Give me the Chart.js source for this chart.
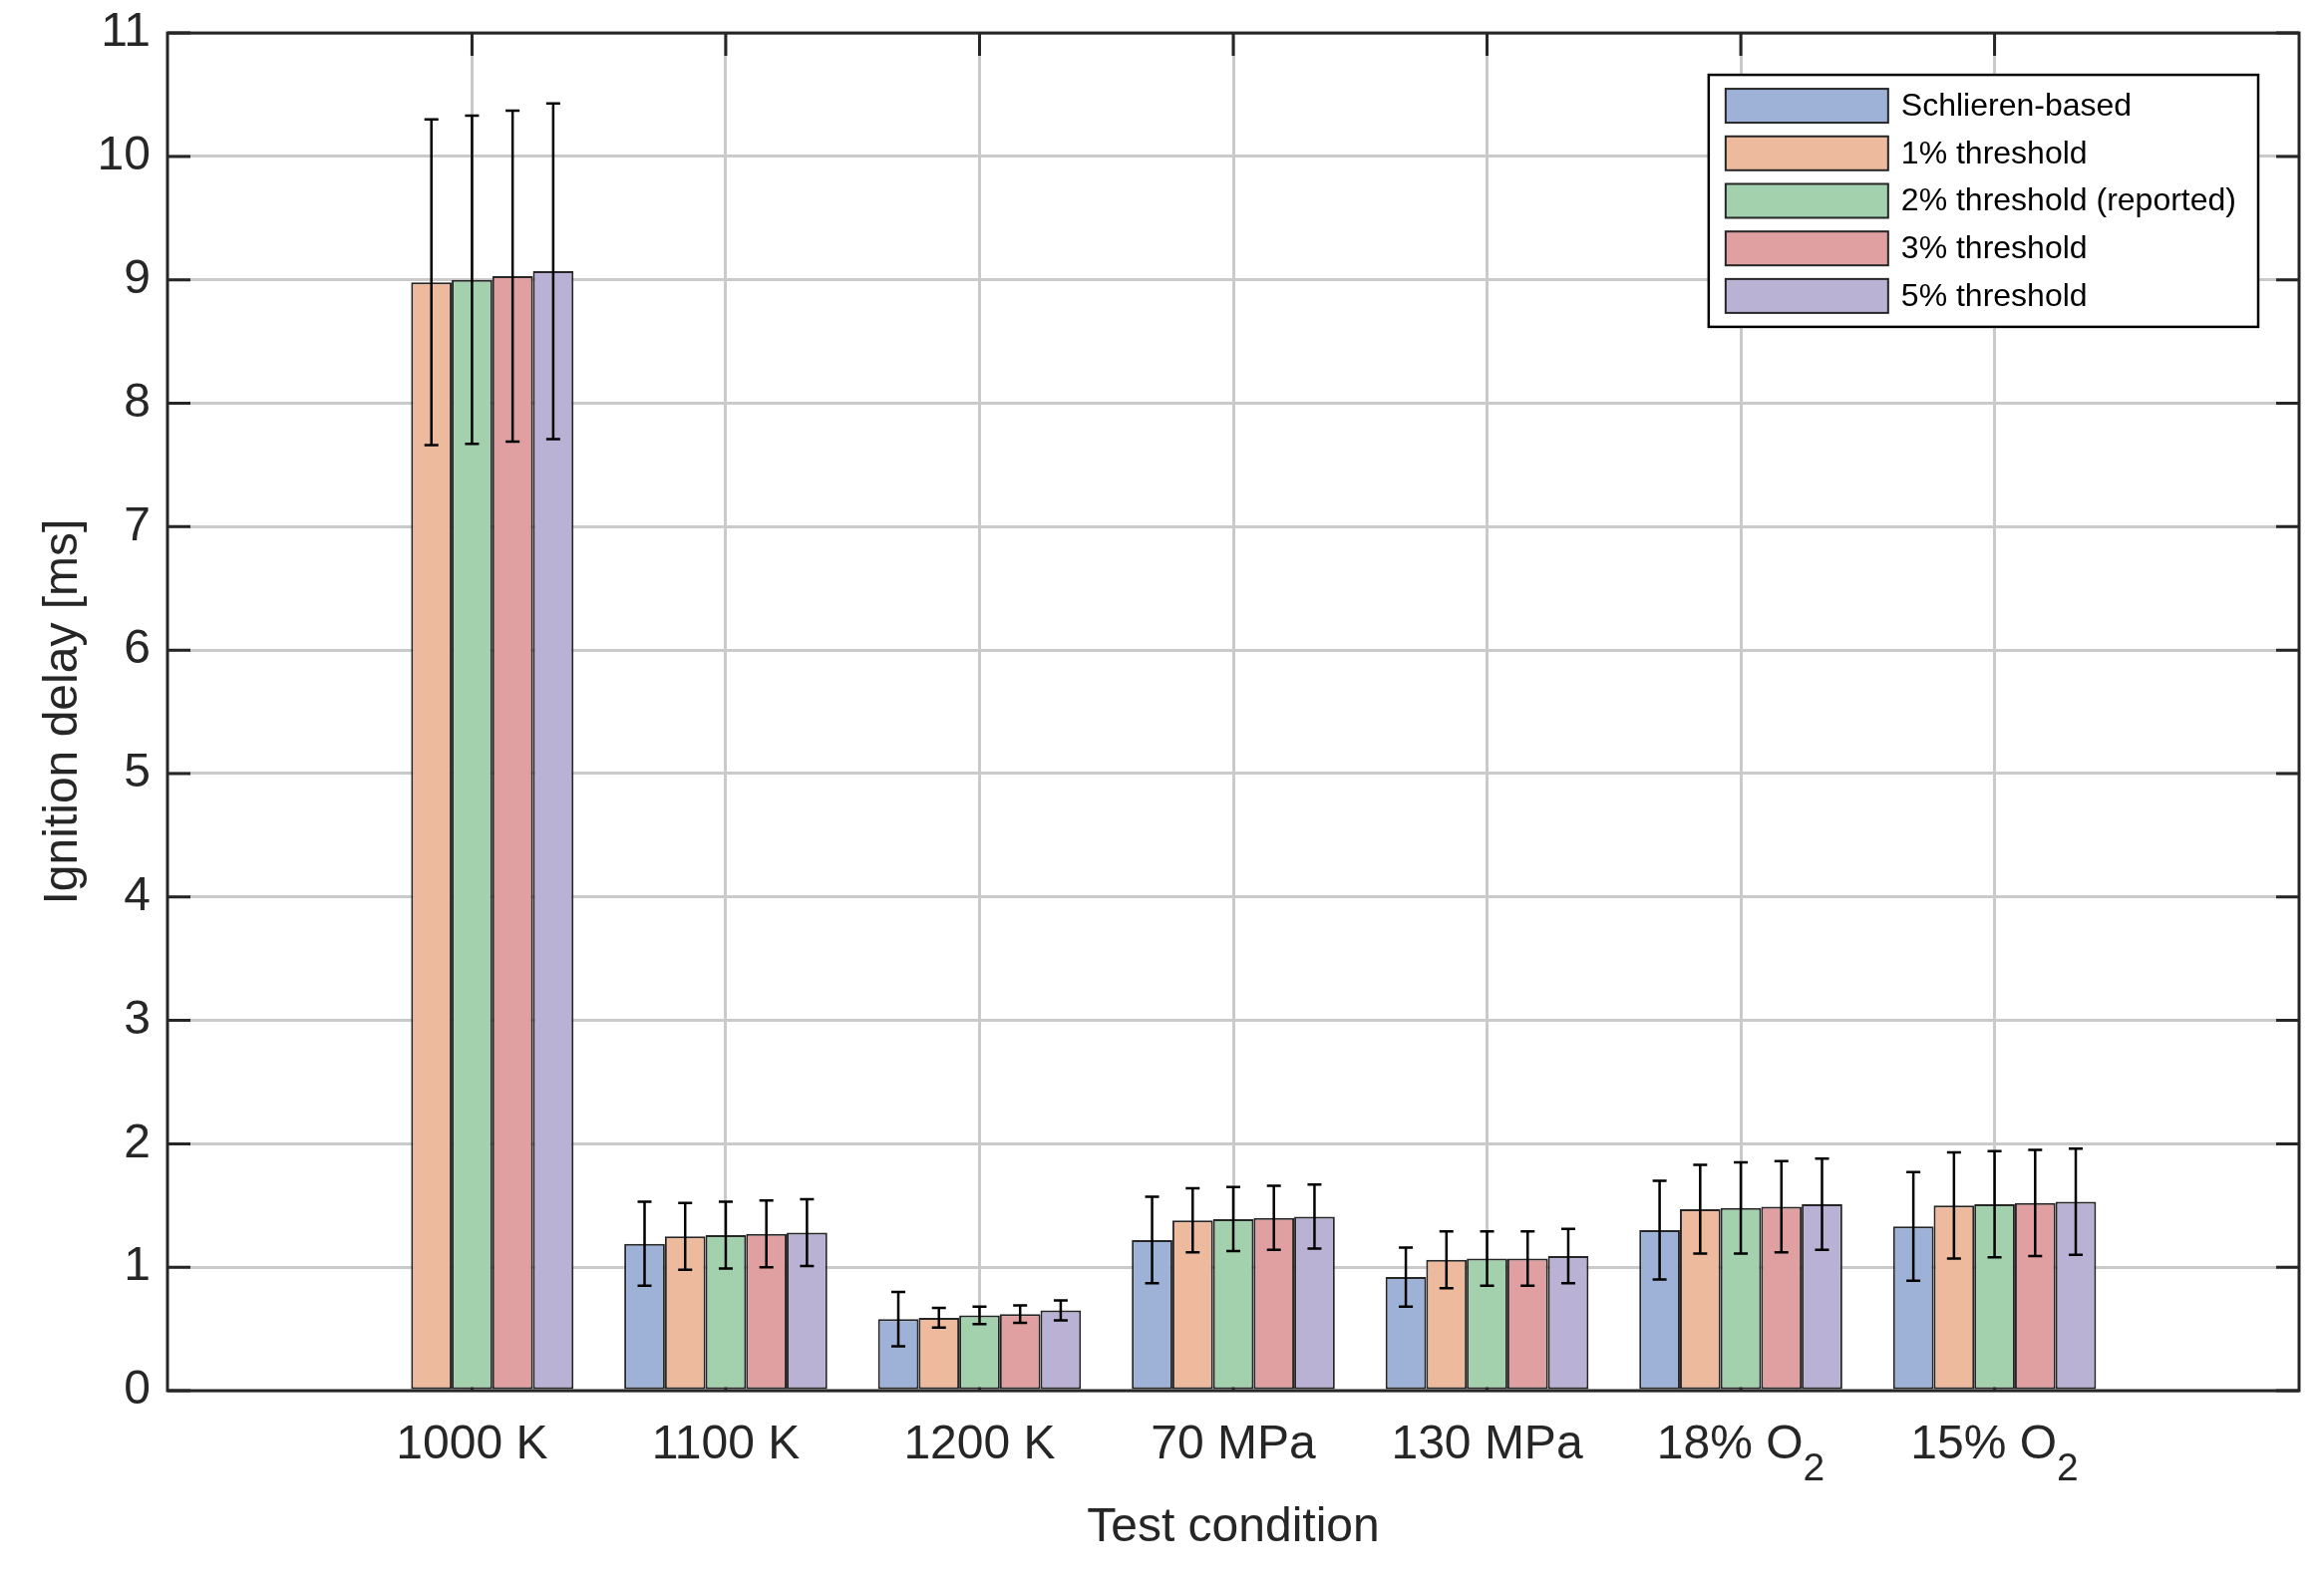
<!DOCTYPE html>
<html>
<head>
<meta charset="utf-8">
<script src="https://cdn.jsdelivr.net/npm/chart.js@4.4.1/dist/chart.umd.min.js"></script>
<style>
  html, body { margin: 0; padding: 0; background: #fff; }
  canvas { display: block; }
</style>
</head>
<body>
<canvas id="barChart" width="2331" height="1599"></canvas>
<script>
// categories and series
const categories = ["1000 K", "1100 K", "1200 K", "70 MPa", "130 MPa", "18% O\u2082", "15% O\u2082"];
const seriesLabels = ["Schlieren-based", "1% threshold", "2% threshold (reported)", "3% threshold", "5% threshold"];
const seriesColors = ["#9db2d6", "#edba9e", "#a3d1ae", "#e09fa1", "#bab2d5"];

const schlieren    = [null, 1.19, 0.58, 1.22, 0.92, 1.30, 1.33];
const schlierenErr = [null, 0.34, 0.22, 0.35, 0.24, 0.40, 0.44];
const thr1         = [8.98, 1.25, 0.59, 1.38, 1.06, 1.47, 1.50];
const thr1Err      = [1.32, 0.27, 0.08, 0.26, 0.23, 0.36, 0.43];
const thr2         = [9.00, 1.26, 0.61, 1.39, 1.07, 1.48, 1.51];
const thr2Err      = [1.33, 0.27, 0.07, 0.26, 0.22, 0.37, 0.43];
const thr3         = [9.03, 1.27, 0.62, 1.40, 1.07, 1.49, 1.52];
const thr3Err      = [1.34, 0.27, 0.07, 0.26, 0.22, 0.37, 0.43];
const thr5         = [9.07, 1.28, 0.65, 1.41, 1.09, 1.51, 1.53];
const thr5Err      = [1.36, 0.27, 0.08, 0.26, 0.22, 0.37, 0.43];

const yTicks = [0, 1, 2, 3, 4, 5, 6, 7, 8, 9, 10, 11];

const seriesValues = [schlieren, thr1, thr2, thr3, thr5];
const seriesErrors = [schlierenErr, thr1Err, thr2Err, thr3Err, thr5Err];

const FONT = '"Liberation Sans", Arial, Helvetica, sans-serif';
const INK = "#262626";
Chart.defaults.font.family = FONT;
Chart.defaults.color = INK;

// MATLAB-style box with inward ticks, drawn under the bars
const axesBox = {
  id: "axesBox",
  beforeDatasetsDraw(chart) {
    const { ctx, chartArea: a, scales: { x, y } } = chart;
    const len = 23;
    ctx.save();
    ctx.strokeStyle = INK;
    ctx.lineWidth = 3;
    ctx.beginPath();
    y.ticks.forEach(t => {
      const py = y.getPixelForValue(t.value);
      ctx.moveTo(a.left, py); ctx.lineTo(a.left + len, py);
      ctx.moveTo(a.right, py); ctx.lineTo(a.right - len, py);
    });
    x.ticks.forEach(t => {
      const px = x.getPixelForValue(t.value);
      ctx.moveTo(px, a.top); ctx.lineTo(px, a.top + len);
      ctx.moveTo(px, a.bottom); ctx.lineTo(px, a.bottom - len);
    });
    ctx.stroke();
    ctx.strokeRect(a.left, a.top, a.right - a.left, a.bottom - a.top);
    ctx.restore();
  }
};

// category labels under the x axis, with a real lowered subscript for O2
const xLabels = {
  id: "xLabels",
  afterDraw(chart) {
    const { ctx, chartArea: a, scales: { x } } = chart;
    const big = "48px " + FONT, small = "39px " + FONT;
    const base = a.bottom + 68;
    ctx.save();
    ctx.fillStyle = INK;
    ctx.textBaseline = "alphabetic";
    ctx.textAlign = "left";
    x.ticks.forEach(t => {
      const label = categories[Math.round(t.value) - 1];
      const parts = label.split("\u2082");
      const main = parts[0];
      const sub = parts.length > 1 ? "2" : "";
      ctx.font = big;
      const wMain = ctx.measureText(main).width;
      ctx.font = small;
      const wSub = sub ? ctx.measureText(sub).width : 0;
      const left = x.getPixelForValue(t.value) - (wMain + wSub) / 2;
      ctx.font = big;
      ctx.fillText(main, left, base);
      if (sub) {
        ctx.font = small;
        ctx.fillText(sub, left + wMain, base + 22);
      }
    });
    ctx.restore();
  }
};

const errorBars = {
  id: "errorBars",
  afterDatasetsDraw(chart) {
    const { ctx, scales: { y } } = chart;
    const cap = 7;
    ctx.save();
    ctx.strokeStyle = "#000";
    ctx.lineWidth = 2.5;
    chart.data.datasets.forEach((ds, di) => {
      const meta = chart.getDatasetMeta(di);
      meta.data.forEach((bar, i) => {
        const v = ds.data[i].y;
        const e = ds.errors[i];
        if (v == null || e == null) return;
        const yt = y.getPixelForValue(v + e);
        const yb = y.getPixelForValue(v - e);
        ctx.beginPath();
        ctx.moveTo(bar.x, yt); ctx.lineTo(bar.x, yb);
        ctx.moveTo(bar.x - cap, yt); ctx.lineTo(bar.x + cap, yt);
        ctx.moveTo(bar.x - cap, yb); ctx.lineTo(bar.x + cap, yb);
        ctx.stroke();
      });
    });
    ctx.restore();
  }
};

const legendBox = {
  id: "legendBox",
  afterDraw(chart) {
    const { ctx, chartArea: a } = chart;
    const sets = chart.data.datasets;
    ctx.save();
    ctx.font = "32px " + FONT;
    const textW = Math.max(...sets.map(d => ctx.measureText(d.label).width));
    const sw = 163, sh = 34, pitch = 47.7, pad = 14;
    const boxW = 17 + sw + 13 + textW + 22;
    const boxH = pad * 2 + (sets.length - 1) * pitch + sh;
    const left = a.right - 41 - boxW;
    const top = a.top + 42;
    ctx.fillStyle = "#fff";
    ctx.fillRect(left, top, boxW, boxH);
    ctx.strokeStyle = "#000";
    ctx.lineWidth = 2.5;
    ctx.strokeRect(left, top, boxW, boxH);
    ctx.textBaseline = "middle";
    ctx.textAlign = "left";
    sets.forEach((d, i) => {
      const sy = top + pad + i * pitch;
      ctx.fillStyle = d.backgroundColor;
      ctx.fillRect(left + 17, sy, sw, sh);
      ctx.strokeStyle = INK;
      ctx.lineWidth = 2;
      ctx.strokeRect(left + 17, sy, sw, sh);
      ctx.fillStyle = "#000";
      ctx.fillText(d.label, left + 17 + sw + 13, sy + sh / 2 + 1);
    });
    ctx.restore();
  }
};

const ctx = document.getElementById("barChart").getContext("2d");
const chart = new Chart(ctx, {
  type: "bar",
  data: {
    datasets: seriesLabels.map((label, s) => ({
      label: label,
      data: seriesValues[s].map((v, i) => ({ x: i + 1, y: v })),
      errors: seriesErrors[s],
      backgroundColor: seriesColors[s],
      borderColor: INK,
      borderWidth: 2,
      borderSkipped: false,
      categoryPercentage: 0.8,
      barPercentage: 1.0,
    })),
  },
  options: {
    responsive: false,
    devicePixelRatio: 1,
    animation: false,
    layout: { padding: { left: 0, right: 25, top: 33, bottom: 0 } },
    plugins: {
      legend: { display: false },
      tooltip: { enabled: false },
    },
    scales: {
      x: {
        type: "linear",
        min: -0.2,
        max: 8.2,
        offset: false,
        afterBuildTicks: (axis) => {
          axis.ticks = categories.map((c, i) => ({ value: i + 1 }));
        },
        afterFit: (axis) => { axis.height = 204; },
        ticks: {
          display: false,
          callback: (value) => categories[Math.round(value) - 1],
          autoSkip: false,
          maxRotation: 0,
        },
        grid: { color: "#cacaca", lineWidth: 3, drawTicks: false, offset: false },
        border: { display: false },
        title: {
          display: true,
          text: "Test condition",
          font: { size: 48 },
          color: INK,
          padding: { top: 0, bottom: 37 },
        },
      },
      y: {
        min: 0,
        max: 11,
        afterBuildTicks: (axis) => {
          axis.ticks = yTicks.map(v => ({ value: v }));
        },
        afterFit: (axis) => { axis.width = 168; },
        ticks: {
          padding: 17,
          font: { size: 48, lineHeight: 0.67 },
          color: INK,
        },
        grid: { color: "#cacaca", lineWidth: 3, drawTicks: false },
        border: { display: false },
        title: {
          display: true,
          text: "Ignition delay [ms]",
          font: { size: 48 },
          color: INK,
          padding: { top: 35, bottom: 0 },
        },
      },
    },
  },
  plugins: [axesBox, errorBars, xLabels, legendBox],
});
</script>
</body>
</html>
